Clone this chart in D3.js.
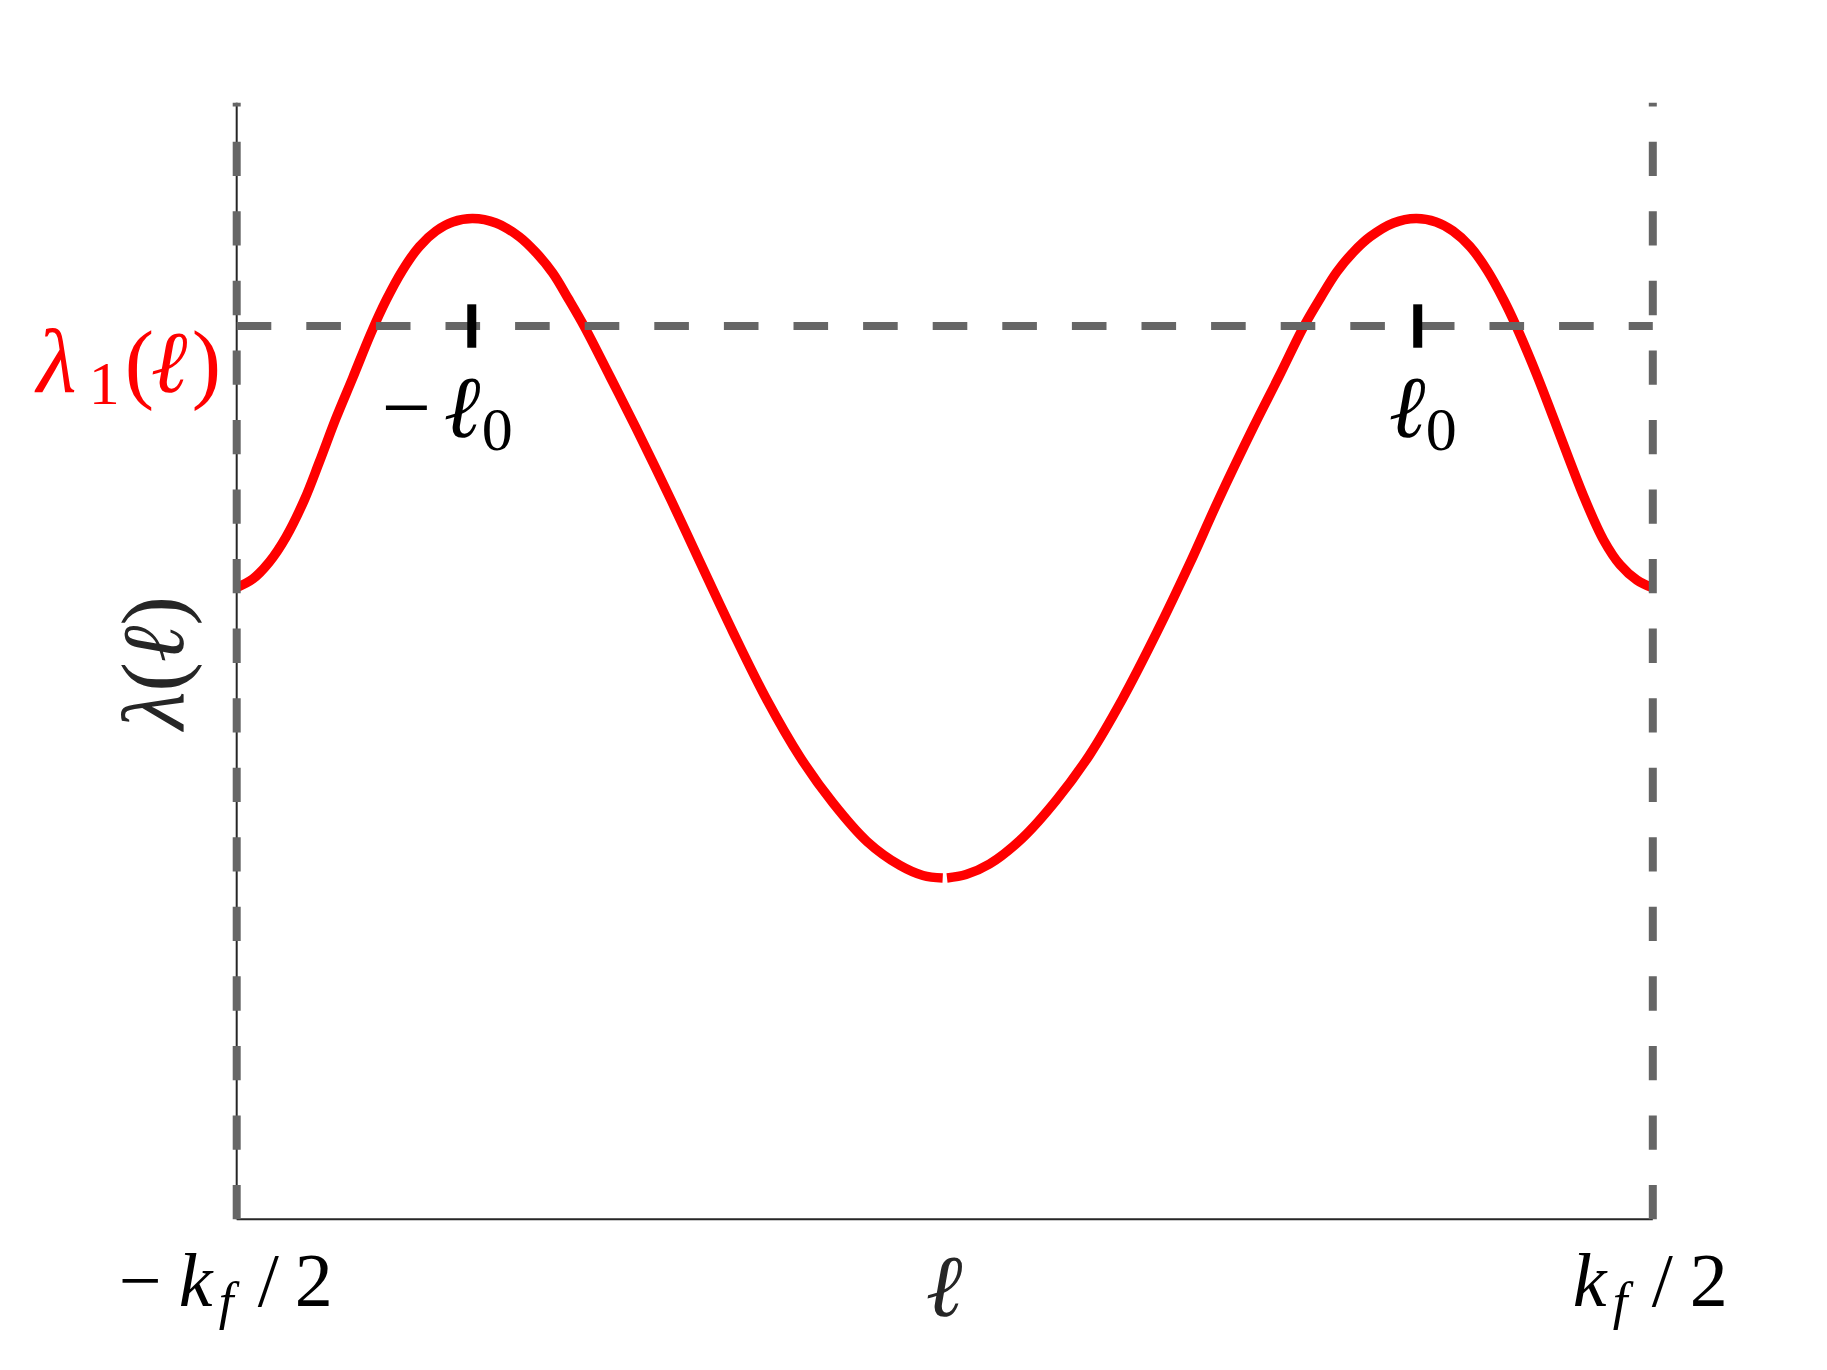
<!DOCTYPE html>
<html>
<head>
<meta charset="utf-8">
<script src="https://cdn.jsdelivr.net/npm/d3@7"></script>
<style>
  html, body { margin: 0; padding: 0; background: #ffffff; }
  svg { display: block; }
</style>
</head>
<body>
<div id="chart"></div>
<script>
// ---- data (ℓ in units of k_f/2, λ in arbitrary units) ----
const ellLeftBranch = [-1.0000, -0.9774, -0.9539, -0.9304, -0.9045, -0.8833, -0.8597, -0.8362, -0.8103, -0.7891,
  -0.7655, -0.7421, -0.7185, -0.6949, -0.6667, -0.6338, -0.6009, -0.5773, -0.5537, -0.5314,
  -0.5091, -0.4728, -0.4361, -0.3866, -0.3457, -0.2991, -0.2511, -0.2044, -0.1578, -0.1098,
  -0.0632, -0.0307, -0.0029];
const lambdaLeftBranch = [0.5658, 0.5734, 0.5887, 0.6110, 0.6442, 0.6782, 0.7176, 0.7535, 0.7937, 0.8229,
  0.8502, 0.8712, 0.8851, 0.8932, 0.8963, 0.8923, 0.8800, 0.8658, 0.8475, 0.8242,
  0.7996, 0.7548, 0.7087, 0.6442, 0.5886, 0.5259, 0.4650, 0.4140, 0.3728, 0.3384,
  0.3169, 0.3079, 0.3057];
const ellRightBranch = [0.0032, 0.0300, 0.0632, 0.1098, 0.1578, 0.2044, 0.2510, 0.2991, 0.3457, 0.3866,
  0.4361, 0.4721, 0.5074, 0.5314, 0.5537, 0.5773, 0.6009, 0.6338, 0.6656, 0.6938,
  0.7178, 0.7418, 0.7658, 0.7898, 0.8068, 0.8362, 0.8597, 0.8833, 0.9045, 0.9304,
  0.9539, 0.9774, 1.0000];
const lambdaRightBranch = [0.3057, 0.3088, 0.3182, 0.3415, 0.3755, 0.4158, 0.4660, 0.5251, 0.5868, 0.6442,
  0.7096, 0.7548, 0.8000, 0.8260, 0.8484, 0.8663, 0.8800, 0.8923, 0.8963, 0.8932,
  0.8851, 0.8712, 0.8502, 0.8229, 0.8003, 0.7562, 0.7176, 0.6782, 0.6442, 0.6084,
  0.5860, 0.5725, 0.5654];
const ell0 = 0.668;          // position of the marked maxima ±ℓ0
const lambda1 = 0.800;       // level λ1(ℓ)
const xTickValues = [-1, 1];
const xTickLabels = ["−k_f/2", "k_f/2"];

// ---- layout ----
const W = 1827, H = 1370;
const svg = d3.select("#chart").append("svg")
  .attr("width", W).attr("height", H)
  .attr("viewBox", `0 0 ${W} ${H}`);
svg.append("rect").attr("width", W).attr("height", H).attr("fill", "#ffffff");

const x = d3.scaleLinear().domain([-1, 1]).range([236.7, 1652.8]);
const y = d3.scaleLinear().domain([0, 1]).range([1219.3, 102.7]);

const SERIF = "Liberation Serif, Times New Roman, serif";
const GRAY = "#666666";
const DARK = "#262626";

// spines (left and bottom only)
svg.append("line").attr("x1", x(-1)).attr("x2", x(-1)).attr("y1", y(0)).attr("y2", y(1))
  .attr("stroke", DARK).attr("stroke-width", 2);
svg.append("line").attr("x1", x(-1)).attr("x2", x(1)).attr("y1", y(0)).attr("y2", y(0))
  .attr("stroke", DARK).attr("stroke-width", 2);

// curve (two branches)
const line = d3.line().x(d => x(d[0])).y(d => y(d[1])).curve(d3.curveCatmullRom.alpha(0.5));
const branches = [
  d3.zip(ellLeftBranch, lambdaLeftBranch),
  d3.zip(ellRightBranch, lambdaRightBranch)
];
svg.selectAll("path.branch").data(branches).enter().append("path")
  .attr("class", "branch")
  .attr("d", line)
  .attr("fill", "none")
  .attr("stroke", "#ff0000")
  .attr("stroke-width", 9.5)
  .attr("stroke-linecap", "butt")
  .attr("stroke-linejoin", "round");

// dashed reference lines
svg.append("line")
  .attr("x1", x(-1)).attr("x2", x(1)).attr("y1", y(lambda1)).attr("y2", y(lambda1))
  .attr("stroke", GRAY).attr("stroke-width", 8).attr("stroke-dasharray", "34.6 35");
xTickValues.forEach(v => {
  svg.append("line")
    .attr("x1", x(v)).attr("x2", x(v)).attr("y1", y(0)).attr("y2", y(1))
    .attr("stroke", GRAY).attr("stroke-width", 8).attr("stroke-dasharray", "34.3 35.25");
});

// tick marks at ±ℓ0
[-ell0, ell0].forEach(v => {
  svg.append("line")
    .attr("x1", x(v)).attr("x2", x(v))
    .attr("y1", y(lambda1) - 21.7).attr("y2", y(lambda1) + 21.7)
    .attr("stroke", "#000000").attr("stroke-width", 9);
});

// helper for math-like labels built from pieces
function mathLabel(x0, y0, parts, fill) {
  const t = svg.append("text").attr("font-family", SERIF).attr("fill", fill);
  parts.forEach(p => {
    t.append("tspan")
      .attr("x", x0 + p.dx)
      .attr("y", y0 + (p.dy || 0))
      .attr("font-size", p.size)
      .attr("font-style", p.it ? "italic" : "normal")
      .text(p.t);
  });
  return t;
}

// x tick labels at ±k_f/2
const tickBase = 1306;
mathLabel(x(xTickValues[0]), tickBase, [
  { t: "−", dx: -118, size: 76 },
  { t: "k", dx: -58, size: 76, it: true },
  { t: "f", dx: -18, dy: 13, size: 53, it: true },
  { t: "/", dx: 21, size: 76 },
  { t: "2", dx: 58, size: 76 }
], "#000000").attr("class", "xtick").attr("data-label", xTickLabels[0]);
mathLabel(x(xTickValues[1]), tickBase, [
  { t: "k", dx: -80, size: 76, it: true },
  { t: "f", dx: -40, dy: 13, size: 53, it: true },
  { t: "/", dx: -1, size: 76 },
  { t: "2", dx: 37, size: 76 }
], "#000000").attr("class", "xtick").attr("data-label", xTickLabels[1]);

// ±ℓ0 labels
const l0Base = 437;
mathLabel(x(-ell0), l0Base, [
  { t: "−", dx: -90, size: 88 },
  { t: "ℓ", dx: -28, size: 88, it: true },
  { t: "0", dx: 10, dy: 13, size: 62 }
], "#000000");
mathLabel(x(ell0), l0Base, [
  { t: "ℓ", dx: -29, size: 88, it: true },
  { t: "0", dx: 8, dy: 13, size: 62 }
], "#000000");

// red λ1(ℓ) label
const ly = y(lambda1);
mathLabel(x(-1), ly, [
  { t: "λ", dx: -200, dy: 66, size: 92, it: true },
  { t: "1", dx: -148, dy: 78, size: 62 },
  { t: "(", dx: -112, dy: 66, size: 88 },
  { t: "ℓ", dx: -86, dy: 66, size: 88, it: true },
  { t: ")", dx: -45, dy: 66, size: 88 }
], "#ff0000");

// axis labels
svg.append("text")
  .attr("x", 944).attr("y", 1316)
  .attr("text-anchor", "middle")
  .attr("font-family", SERIF).attr("font-size", 88).attr("font-style", "italic")
  .attr("fill", DARK)
  .text("ℓ");

const yl = svg.append("text")
  .attr("transform", "translate(183,663) rotate(-90)")
  .attr("text-anchor", "middle")
  .attr("font-family", SERIF).attr("font-size", 88)
  .attr("fill", DARK);
yl.append("tspan").attr("font-style", "italic").text("λ");
yl.append("tspan").text("(");
yl.append("tspan").attr("font-style", "italic").text("ℓ");
yl.append("tspan").text(")");
</script>
</body>
</html>
